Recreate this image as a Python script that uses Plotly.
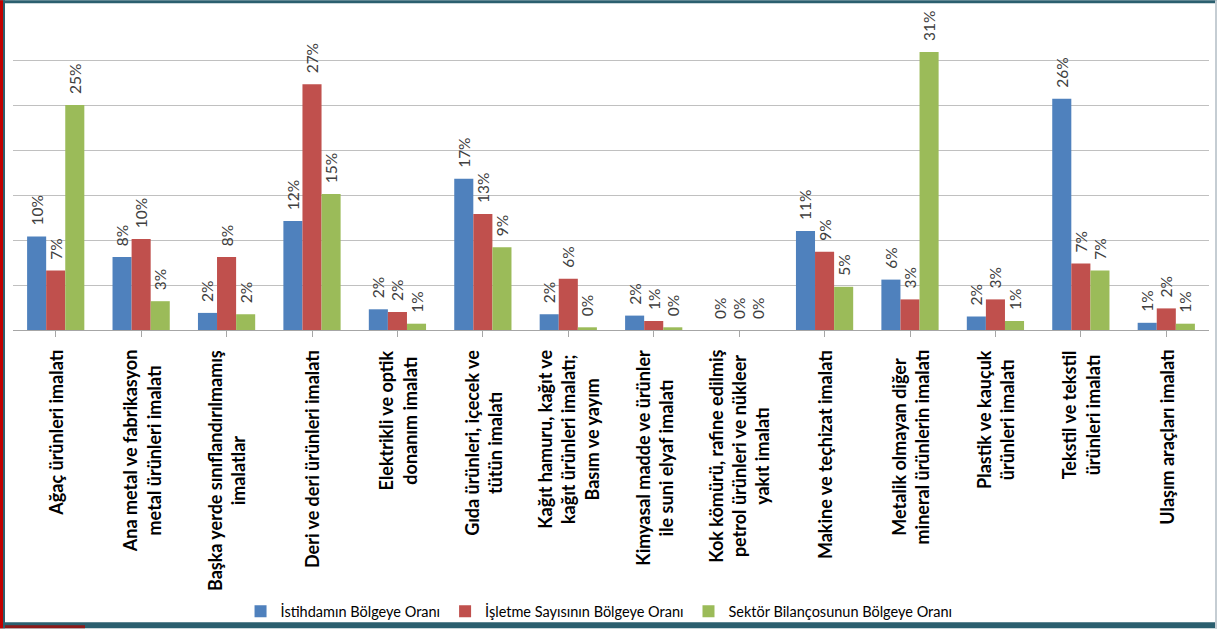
import plotly.graph_objects as go

categories = [
    "Ağaç ürünleri imalatı",
    "Ana metal ve fabrikasyon<br>metal ürünleri imalatı",
    "Başka yerde sınıflandırılmamış<br>imalatlar",
    "Deri ve deri ürünleri imalatı",
    "Elektrikli ve optik<br>donanım imalatı",
    "Gıda ürünleri, içecek ve<br>tütün imalatı",
    "Kağıt hamuru, kağıt ve<br>kağıt ürünleri imalatı;<br>Basım ve yayım",
    "Kimyasal madde ve ürünler<br>ile suni elyaf imalatı",
    "Kok kömürü, rafine edilmiş<br>petrol ürünleri ve nükleer<br>yakıt imalatı",
    "Makine ve teçhizat imalatı",
    "Metalik olmayan diğer<br>mineral ürünlerin imalatı",
    "Plastik ve kauçuk<br>ürünleri imalatı",
    "Tekstil ve tekstil<br>ürünleri imalatı",
    "Ulaşım araçları imalatı",
]

istihdam = [10.4, 8.1, 1.9, 12.1, 2.3, 16.8, 1.75, 1.6, 0.0, 11.0, 5.6, 1.5, 25.7, 0.8]
isletme = [6.6, 10.1, 8.1, 27.3, 2.0, 12.9, 5.7, 1.0, 0.0, 8.7, 3.4, 3.4, 7.4, 2.4]
bilanco = [25.0, 3.2, 1.75, 15.1, 0.7, 9.2, 0.3, 0.3, 0.0, 4.8, 30.9, 1.0, 6.6, 0.7]

series_names = [
    "İstihdamın Bölgeye Oranı",
    "İşletme Sayısının Bölgeye Oranı",
    "Sektör Bilançosunun Bölgeye Oranı",
]
series_values = [istihdam, isletme, bilanco]
colors = ["#4F81BD", "#C0504D", "#9BBB59"]

W, H = 1217, 636
ML, MR, MT, MB = 13, 8, 15, 302
PW = W - ML - MR
PH = H - MT - MB

FONT = "Lato"

fig = go.Figure()
xs = list(range(len(categories)))
for name, vals, col in zip(series_names, series_values, colors):
    fig.add_trace(go.Bar(
        x=xs, y=vals, name=name,
        marker=dict(color=col, line=dict(width=0)),
        texttemplate="\u00a0\u00a0%{y:.0f}%",
        textposition="outside",
        textangle=-90,
        constraintext="none",
        cliponaxis=False,
        textfont=dict(family=FONT, size=15.5, color="#404040"),
        hoverinfo="skip",
    ))

# category labels (centered multi-line, rotated)
for i, cat in enumerate(categories):
    fig.add_annotation(
        x=i, y=0, xref="x", yref="paper",
        text=cat, showarrow=False, textangle=-90,
        xanchor="center", yanchor="top", align="center",
        yshift=-18,
        font=dict(family=FONT, size=18, color="#000000", weight="bold"),
    )

def px(xp):
    return (xp - ML) / PW

def py(yp):
    return (H - MB - yp) / PH

frame = [
    (0, 0, W, 3, "#2B5F6F"),
    (0, 630, W, H, "#2B5F6F"),
    (0, 633, 85, H, "#8B1A1A"),
    (0, 0, 3, H, "#C00000"),
    (3, 0, 5, H, "#2B5F6F"),
    (W - 2, 0, W, H, "#C5CDD3"),
]
for x0, y0, x1, y1, c in frame:
    fig.add_shape(type="rect", xref="paper", yref="paper",
                  x0=px(x0), x1=px(x1), y0=py(y1), y1=py(y0),
                  fillcolor=c, line=dict(width=0), layer="above")

fig.update_layout(
    width=W, height=H,
    margin=dict(l=ML, r=MR, t=MT, b=MB, pad=0),
    paper_bgcolor="white", plot_bgcolor="white",
    barmode="group", bargap=0.33, bargroupgap=0,
    font=dict(family=FONT, color="#000000"),
    showlegend=True,
    legend=dict(orientation="h", x=0.49, xanchor="center",
                y=py(619), yanchor="middle", bgcolor="rgba(0,0,0,0)",
                font=dict(family=FONT, size=14.5, color="#000000"),
                itemwidth=30, traceorder="normal"),
    xaxis=dict(range=[-0.5, len(categories) - 0.5], showticklabels=False,
               ticks="outside", tickson="boundaries", ticklen=6,
               tickcolor="#A6A6A6", showline=True, linecolor="#A6A6A6",
               linewidth=1, showgrid=False, zeroline=False,
               tickvals=xs),
    yaxis=dict(range=[0, 35], dtick=5, showticklabels=False, showgrid=True,
               gridcolor="#C0C0C0", gridwidth=1, zeroline=False, showline=False,
               ticks=""),
)

fig.write_html("out.html", config={"displayModeBar": False},
               post_script="document.body.style.margin='0';document.body.style.padding='0';")
